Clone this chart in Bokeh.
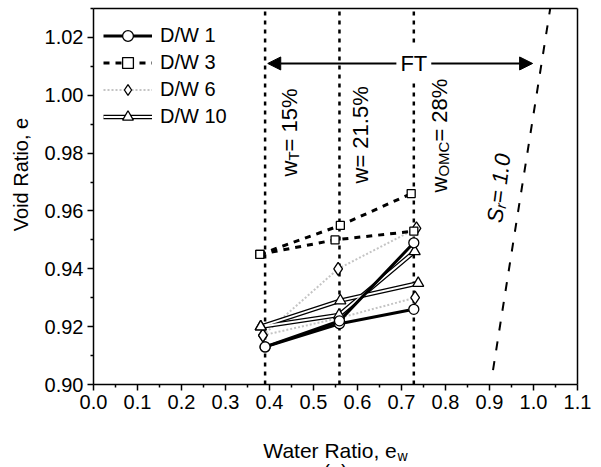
import math
from bokeh.plotting import figure
from bokeh.models import (Label, Arrow, NormalHead, Legend, LegendItem,
                          FixedTicker, Range1d, BasicTickFormatter, LinearAxis)
from bokeh.embed import file_html
from bokeh.resources import INLINE

# ---------------- data ----------------
x_ticks = [0.0, 0.1, 0.2, 0.3, 0.4, 0.5, 0.6, 0.7, 0.8, 0.9, 1.0, 1.1]
x_tick_labels = ["0.0", "0.1", "0.2", "0.3", "0.4", "0.5", "0.6", "0.7", "0.8", "0.9", "1.0", "1.1"]
y_ticks = [0.90, 0.92, 0.94, 0.96, 0.98, 1.00, 1.02]
y_tick_labels = ["0.90", "0.92", "0.94", "0.96", "0.98", "1.00", "1.02"]

boundary_ew = [0.39, 0.559, 0.728]          # w = 15 %, 21.5 %, 28 %

dw1_ew_a = [0.390, 0.559, 0.728]
dw1_e_a = [0.913, 0.921, 0.926]
dw1_ew_b = [0.390, 0.559, 0.728]
dw1_e_b = [0.913, 0.922, 0.949]

dw3_ew_a = [0.378, 0.561, 0.722]
dw3_e_a = [0.945, 0.955, 0.966]
dw3_ew_b = [0.378, 0.549, 0.728]
dw3_e_b = [0.945, 0.950, 0.953]

dw6_ew_a = [0.385, 0.556, 0.734]
dw6_e_a = [0.917, 0.940, 0.954]
dw6_ew_b = [0.385, 0.559, 0.731]
dw6_e_b = [0.917, 0.923, 0.930]

dw10_ew_a = [0.380, 0.561, 0.738]
dw10_e_a = [0.920, 0.929, 0.935]
dw10_ew_b = [0.380, 0.558, 0.730]
dw10_e_b = [0.920, 0.924, 0.946]

sr1_ew = [0.908, 1.038]
sr1_e = [0.905, 1.03]

ft_ew = [0.396, 0.998]
ft_e = 1.011

# ---------------- layout geometry (pixels) ----------------
W, H = 601, 467
XB = (0.0, 1.1)       # plotted box, data units
YB = (0.90, 1.03)
BL, BR, BT, BBOT = 93, 577, 8, 384   # plotted box, pixels
KX = (BR - BL) / (XB[1] - XB[0])
KY = (BBOT - BT) / (YB[1] - YB[0])
XR = (XB[0] - BL / KX, XB[1] + (W - BR) / KX)
YR = (YB[0] - (H - BBOT) / KY, YB[1] + BT / KY)

def dx(px):
    return XR[0] + px / KX

def dy(py):
    return YR[0] + (H - py) / KY

p = figure(width=W, height=H, x_range=Range1d(*XR), y_range=Range1d(*YR),
           output_backend="svg", toolbar_location=None,
           min_border_left=0, min_border_right=0, min_border_top=0, min_border_bottom=0,
           x_axis_location=None, y_axis_location=None)
p.xgrid.visible = False
p.ygrid.visible = False
p.background_fill_color = "white"
p.border_fill_color = "white"
p.outline_line_color = None

FONT = "Liberation Sans"

x_minor = [round(t + 0.05, 3) for t in x_ticks[:-1]]
y_minor = [round(t + 0.01, 3) for t in y_ticks]

def style_axis(ax):
    ax.axis_line_width = 1.5
    ax.axis_line_color = "black"
    ax.major_tick_line_width = 1.5
    ax.minor_tick_line_width = 1.5
    ax.major_tick_out = 6
    ax.major_tick_in = 0
    ax.minor_tick_out = 3
    ax.minor_tick_in = 0
    ax.major_label_text_font = FONT
    ax.major_label_text_font_size = "20px"
    ax.major_label_text_color = "black"
    ax.major_label_standoff = 4

xaxis = LinearAxis(fixed_location=YB[0], bounds=XB,
                   ticker=FixedTicker(ticks=x_ticks, minor_ticks=x_minor),
                   formatter=BasicTickFormatter(precision=1, use_scientific=False),
                   major_label_overrides=dict(zip(x_ticks, x_tick_labels)))
yaxis = LinearAxis(fixed_location=XB[0], bounds=YB,
                   ticker=FixedTicker(ticks=y_ticks, minor_ticks=y_minor),
                   formatter=BasicTickFormatter(precision=2, use_scientific=False),
                   major_label_overrides=dict(zip(y_ticks, y_tick_labels)))
style_axis(xaxis)
style_axis(yaxis)
p.add_layout(xaxis, "below")
p.add_layout(yaxis, "left")

# box edges (top / right) as tick-less axes
for side, loc, bnd in (("above", YB[1], XB), ("right", XB[1], YB)):
    ax = LinearAxis(fixed_location=loc, bounds=bnd, ticker=FixedTicker(ticks=[]),
                    major_tick_out=0, minor_tick_out=0, major_tick_in=0, minor_tick_in=0,
                    axis_line_width=1.5, axis_line_color="black",
                    major_label_text_font_size="0px")
    p.add_layout(ax, side)

AW = {'w': 0.722, 'T': 0.611, 'O': 0.778, 'M': 0.833, 'C': 0.722, '=': 0.584, ' ': 0.278,
      '1': 0.556, '2': 0.556, '5': 0.556, '8': 0.556, '0': 0.556, '.': 0.278, '%': 0.889,
      'S': 0.667, 'r': 0.333, 'W': 0.944, 'a': 0.556, 't': 0.278, 'e': 0.556, 'R': 0.722,
      'i': 0.222, 'o': 0.556, ',': 0.278, 'V': 0.667, 'd': 0.556}

def twidth(s, size):
    return sum(AW.get(c, 0.556) for c in s) * size

def rich(px, py, parts, angle_deg=0.0, style="normal"):
    th = math.radians(angle_deg)
    ux, uy = math.cos(th), math.sin(th)
    ddx, ddy = math.sin(th), -math.cos(th)
    adv = 0.0
    for text, size, shift in parts:
        ox = adv * ux + shift * ddx
        oy = adv * uy + shift * ddy
        p.add_layout(Label(x=dx(px), y=dy(py), x_offset=ox, y_offset=oy, text=text,
                           angle=th, text_font=FONT, text_font_size=f"{size}px",
                           text_font_style=style, text_color="black",
                           text_align="left", text_baseline="alphabetic"))
        adv += twidth(text, size)

# vertical boundaries
p.segment(x0=boundary_ew, y0=[YB[0]] * 3, x1=boundary_ew, y1=[YB[1]] * 3,
          line_color="black", line_width=2.5, line_dash="4 5")

# Sr = 1 line
p.line(sr1_ew, sr1_e, line_color="black", line_width=2, line_dash="9 11")

# series lines
l6 = p.multi_line([dw6_ew_a, dw6_ew_b], [dw6_e_a, dw6_e_b], line_color="#c4c4c4",
                  line_width=2, line_dash="2 2")
l3 = p.multi_line([dw3_ew_a, dw3_ew_b], [dw3_e_a, dw3_e_b], line_color="black",
                  line_width=3, line_dash="6 6")
l10o = p.multi_line([dw10_ew_a, dw10_ew_b], [dw10_e_a, dw10_e_b], line_color="black",
                    line_width=4.5)
l10i = p.multi_line([dw10_ew_a, dw10_ew_b], [dw10_e_a, dw10_e_b], line_color="white",
                    line_width=2)
l1 = p.multi_line([dw1_ew_a, dw1_ew_b], [dw1_e_a, dw1_e_b], line_color="black",
                  line_width=3)

# markers
m6 = p.scatter(dw6_ew_a + dw6_ew_b, dw6_e_a + dw6_e_b, marker="diamond", size=13,
               fill_color="white", line_color="black", line_width=1.3)
m10 = p.scatter(dw10_ew_a + dw10_ew_b, dw10_e_a + dw10_e_b, marker="triangle", size=11,
                fill_color="white", line_color="black", line_width=1.3)
m3 = p.scatter(dw3_ew_a + dw3_ew_b, dw3_e_a + dw3_e_b, marker="square", size=8,
               fill_color="white", line_color="black", line_width=1.3)
m1 = p.scatter(dw1_ew_a + dw1_ew_b, dw1_e_a + dw1_e_b, marker="circle", size=10,
               fill_color="white", line_color="black", line_width=1.3)

# FT arrow
p.add_layout(Arrow(start=NormalHead(size=13, fill_color="black", line_color="black"),
                   end=NormalHead(size=13, fill_color="black", line_color="black"),
                   x_start=ft_ew[0], y_start=ft_e, x_end=ft_ew[1], y_end=ft_e,
                   line_color="black", line_width=2))
p.add_layout(Label(x=boundary_ew[2], y=ft_e, text="FT", text_font=FONT,
                   text_font_size="22px", text_color="black", text_align="center",
                   text_baseline="middle", background_fill_color="white", padding=4))

# rotated annotations
rich(289, 176, [("w", 22, 0), ("T", 15, 4), ("= 15%", 22, 0)], 90)
rich(360, 183, [("w= 21.5%", 22, 0)], 90)
rich(439, 192, [("w", 22, 0), ("OMC", 15, 4), ("= 28%", 22, 0)], 90)
rich(494, 222, [("S", 22, 0), ("r", 15, 4), ("= 1.0", 22, 0)], 83, style="italic")

# axis titles
p.add_layout(Label(x=dx(20), y=dy(174), text="Void Ratio, e", angle=math.pi / 2,
                   text_font=FONT, text_font_size="20px", text_color="black",
                   text_align="center", text_baseline="middle"))
xt_main = "Water Ratio, e"
xt_w = twidth(xt_main, 21) + twidth("w", 14)
rich((BL + BR) / 2 - xt_w / 2, 450, [(xt_main, 21, 0), ("w", 14, 5)])
p.add_layout(Label(x=dx((BL + BR) / 2), y=dy(460), text="(a)", text_font=FONT,
                   text_font_size="20px", text_color="black", text_align="center",
                   text_baseline="top"))

# legend
leg_h = 4 * 27
legend = Legend(items=[LegendItem(label="D/W 1", renderers=[l1, m1]),
                       LegendItem(label="D/W 3", renderers=[l3, m3]),
                       LegendItem(label="D/W 6", renderers=[l6, m6]),
                       LegendItem(label="D/W 10", renderers=[l10o, l10i, m10])],
                location=(103, H - 21.5 - leg_h), margin=0, padding=0, spacing=0,
                glyph_width=49, glyph_height=27, label_height=27, label_standoff=8,
                label_text_font=FONT, label_text_font_size="20px",
                label_text_color="black",
                border_line_alpha=0, background_fill_alpha=0)
p.add_layout(legend)

open("out.html", "w").write(file_html(p, INLINE))
